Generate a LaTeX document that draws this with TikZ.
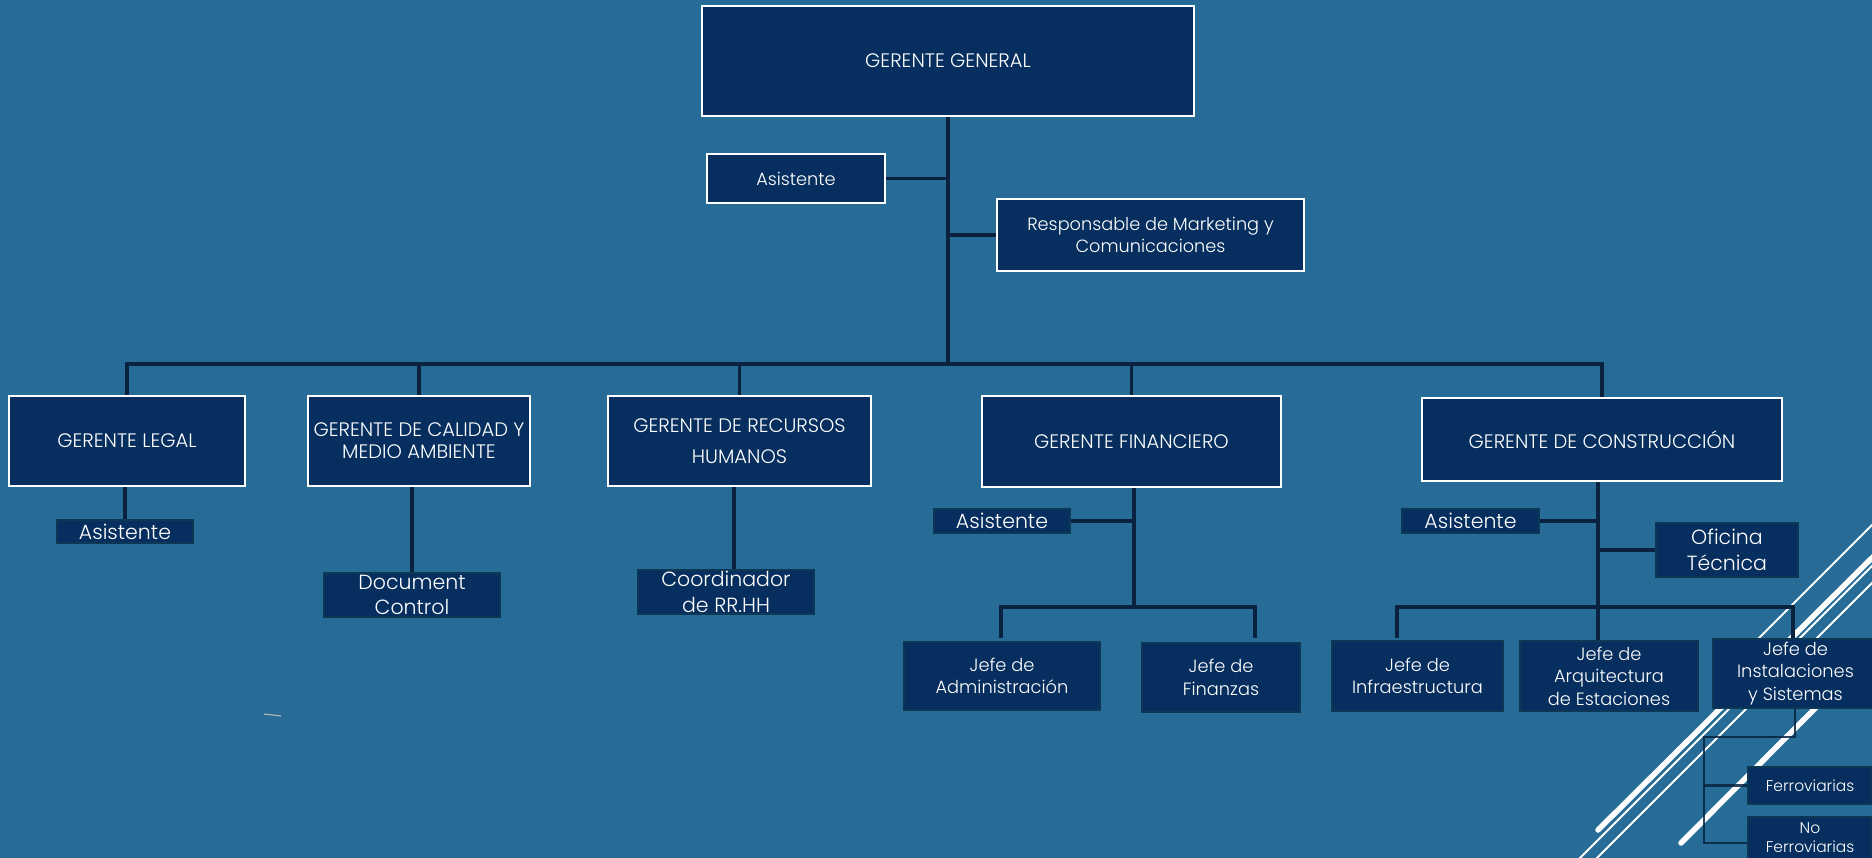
\documentclass[tikz,border=0pt]{standalone}
\usepackage{fontspec}
\setmainfont{Poppins}[UprightFont=* Light]
\definecolor{bg}{RGB}{38,108,151}
\definecolor{navy}{RGB}{6,46,94}
\definecolor{edge}{RGB}{12,56,86}
\definecolor{linecol}{RGB}{9,34,64}
\newcommand\fsHead{\fontsize{19.5}{22}\selectfont}
\newcommand\fsRRHH{\fontsize{19.5}{31}\selectfont}
\newcommand\fsLow{\fontsize{17.7}{21.5}\selectfont}
\newcommand\fsBig{\fontsize{20.5}{25.5}\selectfont}
\newcommand\fsJefe{\fontsize{17.8}{22.5}\selectfont}
\newcommand\fsSmall{\fontsize{15.5}{19}\selectfont}
\pgfdeclarelayer{bglayer}
\pgfdeclarelayer{decolayer}
\pgfdeclarelayer{connlayer}
\pgfsetlayers{bglayer,decolayer,connlayer,main}
\tikzset{
  topbox/.style={draw=white, line width=2.2pt, fill=navy, text=white, inner sep=0pt, outer sep=0pt, align=center},
  lowbox/.style={draw=edge, line width=1.5pt, fill=navy, text=white, inner sep=0pt, outer sep=0pt, align=center},
  conn/.style={draw=linecol, line width=3.4pt},
  subconn/.style={draw=linecol, line width=2.6pt, draw opacity=0.85},
  decothin/.style={draw=white, line width=1.8pt},
  decothick/.style={draw=white, line width=5.5pt, line cap=round},
}
\begin{document}
\begin{tikzpicture}[x=1pt,y=-1pt]
\useasboundingbox (0,0) rectangle (1872,858);
\clip (0,0) rectangle (1872,858);
\begin{pgfonlayer}{bglayer}
\fill[bg] (0,0) rectangle (1872,858);
\end{pgfonlayer}

% decorative diagonal lines
\begin{pgfonlayer}{decolayer}
\draw[decothin] (1880,517) -- (1745,652);
\draw[decothick] (1890,540) -- (1598,830);
\draw[decothin] (1572,866) -- (1880,558);
\draw[decothin] (1589,866) -- (1880,575);
\draw[decothick] (1890,633) -- (1681,843);
\draw[gray!60, line width=1.2pt] (264,714) -- (281,716);
\end{pgfonlayer}

% nodes
\node[topbox, font=\fsHead, minimum width=492pt, minimum height=110pt] (gg) at (948,61) {GERENTE GENERAL};
\node[topbox, font=\fsLow, minimum width=178pt, minimum height=49pt] (asis0) at (796,178.5) {Asistente};
\node[topbox, font=\fsLow, minimum width=307pt, minimum height=72pt] (mkt) at (1150.5,235) {Responsable de Marketing y\\Comunicaciones};

\node[topbox, font=\fsHead, minimum width=236pt, minimum height=90pt] (legal) at (127,441) {GERENTE LEGAL};
\node[topbox, font=\fsHead, minimum width=222pt, minimum height=90pt] (calidad) at (419,441) {GERENTE DE CALIDAD Y\\MEDIO AMBIENTE};
\node[topbox, font=\fsRRHH, minimum width=263pt, minimum height=90pt] (rrhh) at (739.5,441) {GERENTE DE RECURSOS\\HUMANOS};
\node[topbox, font=\fsHead, minimum width=299pt, minimum height=91pt] (fin) at (1131.5,441.5) {GERENTE FINANCIERO};
\node[topbox, font=\fsHead, minimum width=360pt, minimum height=83pt] (cons) at (1602,439.5) {GERENTE DE CONSTRUCCIÓN};

\node[lowbox, font=\fsBig, minimum width=136pt, minimum height=23pt] (asisL) at (125,531.5) {Asistente};
\node[lowbox, font=\fsBig, minimum width=176pt, minimum height=44pt] (doc) at (412,595) {Document\\Control};
\node[lowbox, font=\fsBig, minimum width=176pt, minimum height=44pt] (coord) at (726,592) {Coordinador\\de RR.HH};

\node[lowbox, font=\fsBig, minimum width=136pt, minimum height=24pt] (asisF) at (1002,521) {Asistente};
\node[lowbox, font=\fsJefe, minimum width=196pt, minimum height=68pt] (adm) at (1002,676) {Jefe de\\Administración};
\node[lowbox, font=\fsJefe, minimum width=158pt, minimum height=69pt] (fzs) at (1221,677.5) {Jefe de\\Finanzas};

\node[lowbox, font=\fsBig, minimum width=137pt, minimum height=24pt] (asisC) at (1470.5,521) {Asistente};
\node[lowbox, font=\fsBig, minimum width=142pt, minimum height=54pt] (ofi) at (1727,550) {Oficina\\Técnica};
\node[lowbox, font=\fsJefe, minimum width=171pt, minimum height=70pt] (infra) at (1417.5,676) {Jefe de\\Infraestructura};
\node[lowbox, font=\fsJefe, minimum width=178pt, minimum height=70pt] (arq) at (1609,676) {Jefe de\\Arquitectura\\de Estaciones};
\node[lowbox, font=\fsJefe, minimum width=165pt, minimum height=69pt] (inst) at (1795.5,673.5) {Jefe de\\Instalaciones\\y Sistemas};
\node[lowbox, font=\fsSmall, minimum width=124pt, minimum height=37pt] (ferr) at (1810,785.5) {Ferroviarias};
\node[lowbox, font=\fsSmall, minimum width=124pt, minimum height=42pt] (noferr) at (1810,838) {No\\Ferroviarias};

% connector points
\coordinate (bus) at (948,364);
\coordinate (finbus) at (1134,607);
\coordinate (admdrop) at (1001,638);
\coordinate (fzsdrop) at (1255,638);
\coordinate (consbus) at (1598,607);
\coordinate (infdrop) at (1397,638);
\coordinate (insdrop) at (1793,638);
\coordinate (ins1) at (1795,737);
\coordinate (ins2) at (1704,737);
\coordinate (nfb) at (1748,843);

\begin{pgfonlayer}{connlayer}
% top level
\draw[conn] (gg.south) -- (bus);
\draw[conn] (asis0.east) -- (asis0.east -| gg.south);
\draw[conn] (mkt.west) -- (mkt.west -| gg.south);
\draw[conn] (bus) -| (legal.north);
\draw[conn] (bus) -| (calidad.north);
\draw[conn] (bus) -| (rrhh.north);
\draw[conn] (bus) -| (fin.north);
\draw[conn] (bus) -| (cons.north);
% legal, calidad, rrhh
\draw[conn] (asisL.north |- legal.south) -- (asisL.north);
\draw[conn] (doc.north |- calidad.south) -- (doc.north);
\draw[conn] ([xshift=8pt]coord.north |- rrhh.south) -- ([xshift=8pt]coord.north);
% financiero
\draw[conn] (finbus |- fin.south) -- (finbus);
\draw[conn] (asisF.east) -- (asisF.east -| finbus);
\draw[conn] (admdrop) |- (finbus) -| (fzsdrop);
% construccion
\draw[conn] (consbus |- cons.south) -- (consbus |- arq.north);
\draw[conn] (asisC.east) -- (asisC.east -| consbus);
\draw[conn] (ofi.west) -- (ofi.west -| consbus);
\draw[conn] (infdrop) |- (consbus) -| (insdrop);
% instalaciones
\draw[subconn] (inst.south -| ins1) -- (ins1) -- (ins2) |- (nfb);
\draw[subconn] (ins2 |- ferr.west) -- (ferr.west);
\end{pgfonlayer}
\end{tikzpicture}
\end{document}
